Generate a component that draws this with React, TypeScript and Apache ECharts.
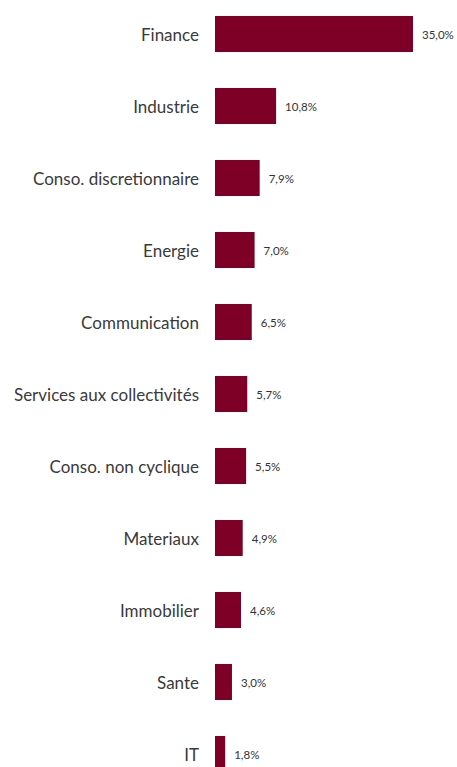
import React, { useEffect, useRef } from "react";
import * as echarts from "echarts";

const categories = [
  "Finance",
  "Industrie",
  "Conso. discretionnaire",
  "Energie",
  "Communication",
  "Services aux collectivités",
  "Conso. non cyclique",
  "Materiaux",
  "Immobilier",
  "Sante",
  "IT",
];
const values = [35.0, 10.8, 7.9, 7.0, 6.5, 5.7, 5.5, 4.9, 4.6, 3.0, 1.8];

const FONT = "Lato, 'Open Sans', sans-serif";

export default function App() {
  const ref = useRef<HTMLDivElement>(null);
  useEffect(() => {
    if (!ref.current) return;
    const chart = echarts.init(ref.current, undefined, { renderer: "svg" });
    chart.setOption({
      animation: false,
      grid: { left: 215, top: 0, width: 226.29, bottom: 2, containLabel: false },
      xAxis: {
        type: "value",
        min: 0,
        max: 40,
        show: false,
      },
      yAxis: {
        type: "category",
        data: categories,
        inverse: true,
        axisLine: { show: false },
        axisTick: { show: false },
        splitLine: { show: false },
        axisLabel: {
          margin: 16,
          color: "#3a3a3a",
          fontSize: 17,
          fontFamily: FONT,
        },
      },
      series: [
        {
          type: "bar",
          data: values,
          barWidth: 36,
          itemStyle: { color: "#7f0026" },
          label: {
            show: true,
            position: "right",
            distance: 9,
            color: "#333333",
            fontSize: 11.5,
            fontFamily: FONT,
            formatter: (p: any) => p.value.toFixed(1).replace(".", ",") + "%",
          },
        },
      ],
    });
    return () => chart.dispose();
  }, []);
  return (
    <div style={{ position: "fixed", left: 0, top: 0, width: 457, height: 767, overflow: "hidden", background: "#fff" }}>
      <div ref={ref} style={{ width: 457, height: 794, marginTop: -2 }} />
    </div>
  );
}
